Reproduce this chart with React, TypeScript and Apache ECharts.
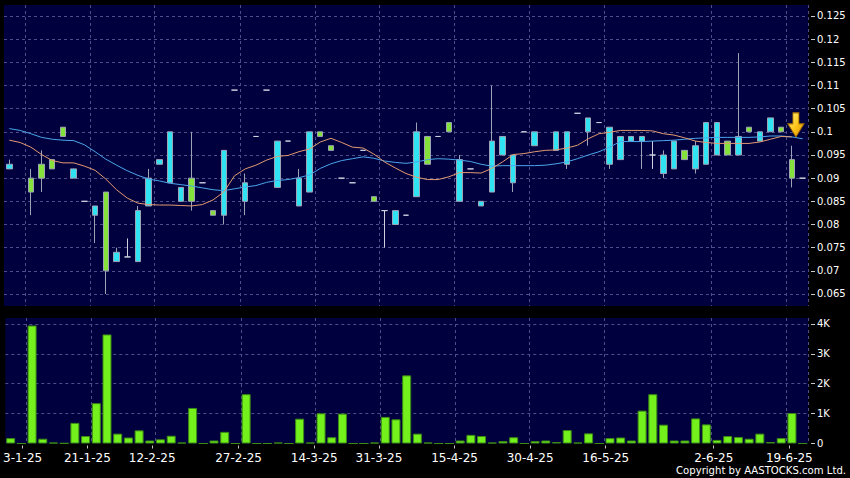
import React, { useEffect, useRef } from "react";
import * as echarts from "echarts";

// Daily candles (index = trading slot on the chart)
const opens = [0.092, null, 0.090, 0.093, 0.094, 0.101, 0.090, 0.085, 0.082, 0.087,
  0.072, 0.073, 0.072, 0.084, 0.093, 0.089, 0.085, 0.090, 0.089, 0.083,
  0.082, 0.109, 0.085, 0.099, 0.109, 0.088, 0.098, 0.084, 0.087, 0.100,
  0.097, 0.090, 0.089, 0.096, 0.086, 0.083, 0.080, 0.082, 0.086, 0.099,
  0.099, 0.102, 0.085, 0.092, 0.084, 0.087, 0.095, 0.089, 0.100, 0.097,
  null, 0.096, 0.093, 0.104, 0.100, 0.102, 0.093, 0.094, 0.098, 0.098,
  0.095, 0.091, 0.092, 0.096, 0.092, 0.093, 0.095, 0.098, 0.095, 0.101,
  0.098, 0.100, 0.101, 0.094, 0.090];
const closes = [0.093, null, 0.087, 0.090, 0.092, 0.099, 0.092, 0.085, 0.084, 0.070,
  0.074, 0.073, 0.083, 0.090, 0.094, 0.100, 0.088, 0.085, 0.089, 0.082,
  0.096, 0.109, 0.089, 0.099, 0.109, 0.098, 0.098, 0.090, 0.100, 0.099,
  0.096, 0.090, 0.089, 0.096, 0.085, 0.083, 0.083, 0.082, 0.100, 0.093,
  0.099, 0.100, 0.094, 0.092, 0.085, 0.098, 0.099, 0.095, 0.100, 0.100,
  null, 0.100, 0.100, 0.104, 0.103, 0.102, 0.101, 0.099, 0.099, 0.099,
  0.095, 0.095, 0.098, 0.094, 0.097, 0.102, 0.102, 0.095, 0.099, 0.100,
  0.100, 0.103, 0.100, 0.090, 0.090];
const lows = [0.092, null, 0.082, 0.087, 0.092, 0.099, 0.090, 0.085, 0.076, 0.065,
  0.072, 0.073, 0.072, 0.084, 0.093, 0.089, 0.085, 0.083, 0.089, 0.082,
  0.080, 0.109, 0.082, 0.099, 0.109, 0.088, 0.098, 0.084, 0.087, 0.099,
  0.096, 0.090, 0.089, 0.096, 0.085, 0.075, 0.080, 0.082, 0.086, 0.093,
  0.099, 0.100, 0.085, 0.092, 0.084, 0.087, 0.095, 0.087, 0.100, 0.097,
  null, 0.096, 0.092, 0.104, 0.097, 0.102, 0.092, 0.094, 0.098, 0.092,
  0.092, 0.090, 0.092, 0.094, 0.091, 0.093, 0.095, 0.095, 0.095, 0.100,
  0.098, 0.100, 0.100, 0.088, 0.090];
const highs = [0.094, null, 0.092, 0.096, 0.094, 0.101, 0.092, 0.085, 0.084, 0.087,
  0.075, 0.077, 0.084, 0.092, 0.094, 0.100, 0.088, 0.100, 0.089, 0.083,
  0.096, 0.109, 0.091, 0.099, 0.109, 0.098, 0.098, 0.092, 0.100, 0.100,
  0.097, 0.090, 0.089, 0.096, 0.086, 0.083, 0.083, 0.082, 0.102, 0.099,
  0.099, 0.102, 0.095, 0.092, 0.085, 0.110, 0.099, 0.095, 0.100, 0.100,
  null, 0.100, 0.100, 0.104, 0.103, 0.102, 0.101, 0.099, 0.099, 0.099,
  0.098, 0.096, 0.098, 0.096, 0.098, 0.102, 0.102, 0.098, 0.117, 0.101,
  0.100, 0.103, 0.101, 0.097, 0.090];

// Volume in thousands
const volumes = [0.18, 0, 3.95, 0.16, 0.03, 0.01, 0.69, 0.25, 1.35, 3.65,
  0.33, 0.2, 0.44, 0.1, 0.14, 0.26, 0.03, 1.19, 0, 0.1,
  0.39, 0, 1.65, 0, 0, 0.03, 0, 0.83, 0.03, 1.01,
  0.21, 1.0, 0, 0, 0.03, 0.89, 0.81, 2.28, 0.33, 0.03,
  0, 0, 0.1, 0.29, 0.25, 0.03, 0.08, 0.21, 0, 0.08,
  0.1, 0.05, 0.45, 0.03, 0.34, 0, 0.18, 0.2, 0.1, 1.1,
  1.65, 0.63, 0.1, 0.1, 0.84, 0.64, 0.12, 0.25, 0.22, 0.16,
  0.33, 0.05, 0.18, 1.02, 0];

// Moving averages
const maBlue = [0.1007, 0.1003, 0.0996, 0.0988, 0.0984, 0.0982, 0.0981, 0.0972, 0.0957, 0.0941,
  0.0928, 0.0916, 0.0906, 0.0898, 0.0894, 0.0889, 0.0886, 0.0883, 0.0879, 0.0875,
  0.0873, 0.0877, 0.0881, 0.0884, 0.0891, 0.0895, 0.0897, 0.0901, 0.0907, 0.0921,
  0.0931, 0.0938, 0.0942, 0.0946, 0.0943, 0.0937, 0.0934, 0.0932, 0.0935, 0.0940,
  0.0942, 0.0941, 0.0939, 0.0936, 0.0930, 0.0926, 0.0927, 0.0927, 0.0927, 0.0927,
  0.0928, 0.0931, 0.0935, 0.0942, 0.0950, 0.0957, 0.0967, 0.0979, 0.0979, 0.0979,
  0.0980, 0.0981, 0.0982, 0.0984, 0.0986, 0.0987, 0.0988, 0.0988, 0.0988, 0.0988,
  0.0989, 0.0991, 0.0991, 0.0989, 0.0985];
const maOrange = [0.0982, 0.0977, 0.0967, 0.0951, 0.0938, 0.0933, 0.0933, 0.0926, 0.0917, 0.0898,
  0.0875, 0.0857, 0.0846, 0.0843, 0.0842, 0.0842, 0.0841, 0.0840, 0.0843, 0.0853,
  0.0870, 0.0905, 0.0920, 0.0928, 0.0939, 0.0947, 0.0949, 0.0957, 0.0963, 0.0978,
  0.0986, 0.0977, 0.0967, 0.0965, 0.0952, 0.0935, 0.0922, 0.0910, 0.0902, 0.0897,
  0.0897, 0.0903, 0.0912, 0.0912, 0.0911, 0.0921, 0.0935, 0.0951, 0.0953, 0.0957,
  0.0960, 0.0961, 0.0965, 0.0971, 0.0985, 0.0996, 0.0999, 0.1003, 0.1003, 0.1003,
  0.1002, 0.0996, 0.0993, 0.0987, 0.0980, 0.0977, 0.0975, 0.0975, 0.0975, 0.0975,
  0.0978, 0.0984, 0.0990, 0.0989, null];

// Date ticks: slot boundary index and label
const tickSlots = [2, 8, 14, 22, 29, 35, 42, 49, 56, 66, 73];
const tickLabels = ["3-1-25", "21-1-25", "12-2-25", "27-2-25", "14-3-25", "31-3-25",
  "15-4-25", "30-4-25", "16-5-25", "2-6-25", "19-6-25"];

const priceTicks = ["0.065", "0.07", "0.075", "0.08", "0.085", "0.09", "0.095", "0.1",
  "0.105", "0.11", "0.115", "0.12", "0.125"];

const FONT = "DejaVu Sans";
const GRID_COLOR = "#4e4e86";
const PLOT_BG = "#00003f";

export default function App() {
  const ref = useRef<HTMLDivElement>(null);

  useEffect(() => {
    if (!ref.current) return;
    const chart = echarts.init(ref.current, null, { renderer: "svg" });
    const slots = opens.map((_, i) => String(i));
    const candleData = opens.map((o, i) =>
      o === null ? "-" : [o, closes[i], lows[i], highs[i]]
    );

    const splitLine = {
      show: true,
      lineStyle: { color: GRID_COLOR, type: [3, 3] as any, width: 1 },
    };

    const catAxis = (gridIndex: number) => ({
      type: "category" as const,
      gridIndex,
      data: slots,
      boundaryGap: true,
      axisLine: { show: false },
      axisTick: { show: false },
      axisLabel: { show: false },
      splitLine: {
        ...splitLine,
        interval: (index: number) => tickSlots.indexOf(index) >= 0,
      },
    });

    const option: any = {
      animation: false,
      backgroundColor: "#000000",
      grid: [
        { left: 4, right: 42, top: 5, height: 301, show: true, backgroundColor: PLOT_BG, borderWidth: 0 },
        { left: 4, right: 42, top: 318, height: 125.5, show: true, backgroundColor: PLOT_BG, borderWidth: 0 },
      ],
      xAxis: [
        catAxis(0),
        catAxis(1),
        {
          type: "value",
          gridIndex: 1,
          position: "bottom",
          min: 0.4,
          max: 74.73,
          offset: 2,
          axisLine: { show: false },
          splitLine: { show: false },
          axisTick: {
            show: true,
            customValues: tickSlots,
            length: 3,
            lineStyle: { color: "#c8c8c8" },
          },
          axisLabel: {
            customValues: tickSlots,
            formatter: (v: number) => {
              const k = tickSlots.indexOf(Math.round(v));
              return k >= 0 ? tickLabels[k] : "";
            },
            color: "#ffffff",
            fontFamily: FONT,
            fontSize: 12,
            margin: 6,
            hideOverlap: false,
          },
        },
      ],
      yAxis: [
        {
          type: "value",
          gridIndex: 0,
          position: "right",
          min: 0.06241,
          max: 0.12737,
          splitNumber: 13,
          offset: 3,
          axisLine: { show: false },
          axisTick: { show: true, length: 4, lineStyle: { color: "#c8c8c8" } },
          axisLabel: {
            color: "#ffffff",
            fontFamily: FONT,
            fontSize: 10,
            margin: 6,
            showMinLabel: false,
            showMaxLabel: false,
            formatter: (v: number) => {
              const s = String(Number(v.toFixed(3)));
              return priceTicks.indexOf(s) >= 0 ? s : "";
            },
          },
          splitLine: { ...splitLine, showMinLine: false, showMaxLine: false },
        },
        {
          type: "value",
          gridIndex: 1,
          position: "right",
          min: 0,
          max: 4.2,
          interval: 1,
          offset: 3,
          axisLine: { show: false },
          axisTick: { show: true, length: 4, lineStyle: { color: "#c8c8c8" } },
          axisLabel: {
            color: "#ffffff",
            fontFamily: FONT,
            fontSize: 10,
            margin: 6,
            showMaxLabel: false,
            formatter: (v: number) => (v === 0 ? "0" : Number(v.toFixed(1)) + "K"),
          },
          splitLine: { ...splitLine, showMinLine: false, showMaxLine: false },
        },
      ],
      series: [
        {
          type: "candlestick",
          xAxisIndex: 0,
          yAxisIndex: 0,
          data: candleData,
          barWidth: 6,
          itemStyle: {
            color: "#2fe3f2",
            color0: "#84e23a",
            borderColor: "#9ea2b6",
            borderColor0: "#9ea2b6",
            borderColorDoji: "#cfd0e0",
            borderWidth: 1,
          },
          markPoint: {
            silent: true,
            symbol: "path://M5,0 L11,0 L11,11 L16,11 L8,24 L0,11 L5,11 Z",
            symbolSize: [16, 24],
            symbolOffset: [4, 0],
            label: { show: false },
            itemStyle: {
              color: new echarts.graphic.LinearGradient(0, 0, 1, 1, [
                { offset: 0, color: "#fff38c" },
                { offset: 0.5, color: "#ffc81e" },
                { offset: 1, color: "#d98c00" },
              ]),
              borderColor: "#a86e00",
              borderWidth: 1,
            },
            data: [{ coord: ["73", 0.1015] }],
          },
          z: 2,
        },
        {
          type: "line",
          xAxisIndex: 0,
          yAxisIndex: 0,
          data: maBlue,
          showSymbol: false,
          symbol: "none",
          lineStyle: { color: "#4aa6ea", width: 1 },
          z: 3,
        },
        {
          type: "line",
          xAxisIndex: 0,
          yAxisIndex: 0,
          data: maOrange,
          showSymbol: false,
          symbol: "none",
          lineStyle: { color: "#e39a70", width: 1 },
          z: 3,
        },
        {
          type: "bar",
          xAxisIndex: 1,
          yAxisIndex: 1,
          data: volumes,
          barWidth: 9,
          itemStyle: { color: "#74f01c", borderColor: "#3b8a14", borderWidth: 1 },
        },
      ],
      graphic: [
        {
          type: "text",
          right: 4,
          top: 465,
          style: {
            text: "Copyright by AASTOCKS.com Ltd.",
            fill: "#ffffff",
            fontFamily: FONT,
            fontSize: 10.1,
          },
        },
      ],
    };

    chart.setOption(option);
    return () => chart.dispose();
  }, []);

  return (
    <div
      ref={ref}
      style={{ position: "fixed", left: 0, top: 0, width: 850, height: 478, background: "#000" }}
    />
  );
}
